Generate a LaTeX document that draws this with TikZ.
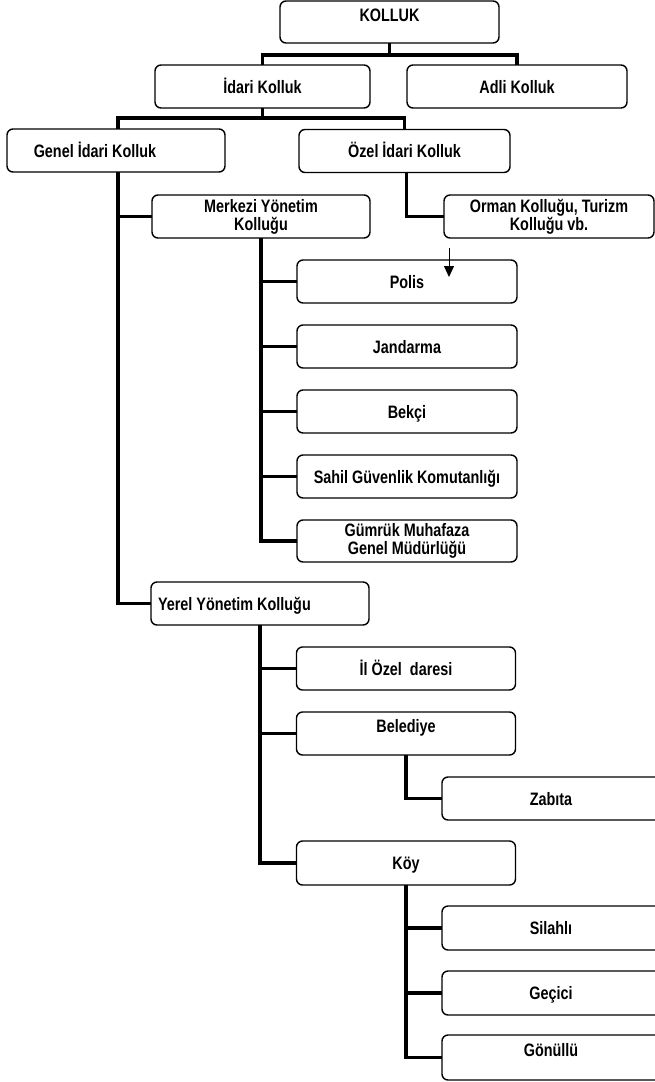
\documentclass[tikz,border=0pt]{standalone}
\usepackage{fontspec}
\setmainfont{Liberation Sans}[FakeStretch=0.8]
\usetikzlibrary{arrows.meta,calc}
\begin{document}
\begin{tikzpicture}[x=1pt,y=-1pt,
  box/.style={draw, line width=1.4pt, rounded corners=6pt, fill=white,
    inner sep=0pt, outer sep=0pt, minimum height=43pt,
    font=\fontsize{18}{18}\selectfont\bfseries},
  one/.style={text height=13.5pt, text depth=0.5pt},
  upt/.style={text height=13.5pt, text depth=15pt},
  two/.style={align=center},
  conn/.style={line width=3.2pt},
  thinarrow/.style={line width=1pt,-{Triangle[width=10pt,length=11pt]}}
  ]
\useasboundingbox (0,0) rectangle (655,1082);

% level 0-2
\node[box,upt,minimum width=219pt,minimum height=42pt] (kolluk) at (389.5,22) {KOLLUK};
\node[box,one,minimum width=215pt] (idari) at (262.5,86.5) {İdari Kolluk};
\node[box,one,minimum width=220pt] (adli) at (517,86.5) {Adli Kolluk};
\node[box,one,minimum width=218pt] (genel) at (116,150.5) {\hspace*{-42pt}Genel İdari Kolluk};
\node[box,one,minimum width=211pt] (ozel) at (404.5,151) {Özel İdari Kolluk};
\node[box,two,minimum width=218pt] (merkezi) at (261,216.5) {Merkezi Yönetim\\Kolluğu};
\node[box,two,minimum width=210pt] (orman) at (549,216.5) {Orman Kolluğu, Turizm\\Kolluğu vb.};

% Merkezi children
\node[box,one,minimum width=220pt] (polis) at (407,281.5) {Polis};
\node[box,one,minimum width=220pt] (jandarma) at (407,346.5) {Jandarma};
\node[box,one,minimum width=220pt] (bekci) at (407,411.5) {Bekçi};
\node[box,one,minimum width=220pt] (sahil) at (407,476.5) {Sahil Güvenlik Komutanlığı};
\node[box,two,minimum width=220pt,minimum height=42pt] (gumruk) at (407,541) {Gümrük Muhafaza\\Genel Müdürlüğü};

% Yerel
\node[box,one,minimum width=218pt,text width=204pt,align=flush left] (yerel) at (260,603.5) {Yerel Yönetim Kolluğu};
\node[box,one,minimum width=219pt] (ilozel) at (406,668.5) {İl Özel\ \ daresi};
\node[box,upt,minimum width=219pt] (belediye) at (406,733.5) {Belediye};
\node[box,one,minimum width=238pt] (zabita) at (561,798.5) {\hspace*{-20pt}Zabıta};
\node[box,one,minimum width=219pt,minimum height=44pt] (koy) at (406,863) {Köy};
\node[box,one,minimum width=238pt,minimum height=44pt] (silahli) at (561,928) {\hspace*{-20pt}Silahlı};
\node[box,one,minimum width=238pt,minimum height=44pt] (gecici) at (561,993) {\hspace*{-20pt}Geçici};
\node[box,upt,minimum width=238pt,minimum height=45pt] (gonullu) at (561,1057.5) {\hspace*{-20pt}Gönüllü};

% connectors
\draw[conn] (kolluk.south) -- ++(0,12) -| (idari.north);
\draw[conn] (kolluk.south) -- ++(0,12) -| (adli.north);
\draw[conn] (idari.south) -- ++(0,10) -| ($(genel.north)+(2,0)$);
\draw[conn] (idari.south) -- ++(0,10) -| (ozel.north);
\draw[conn] ($(genel.south)+(2,0)$) |- (merkezi.west);
\draw[conn] ($(genel.south)+(2,0)$) |- (yerel.west);
\draw[conn] ($(ozel.south)+(2,0)$) |- (orman.west);
\foreach \n in {polis,jandarma,bekci,sahil,gumruk}
  \draw[conn] (merkezi.south) |- (\n.west);
\foreach \n in {ilozel,belediye,koy}
  \draw[conn] (yerel.south) |- (\n.west);
\draw[conn] (belediye.south) |- (zabita.west);
\foreach \n in {silahli,gecici,gonullu}
  \draw[conn] (koy.south) |- (\n.west);

% thin arrow
\coordinate (arrS) at (449,248);
\coordinate (arrE) at (449,277);
\draw[thinarrow] (arrS) -- (arrE);
\end{tikzpicture}
\end{document}
